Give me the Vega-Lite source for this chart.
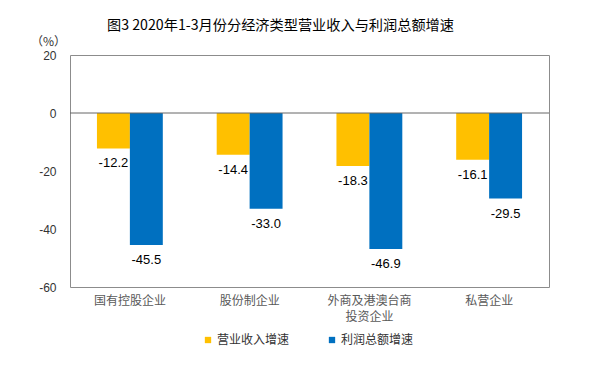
{
  "$schema": "https://vega.github.io/schema/vega-lite/v6.json",
  "width": 479,
  "height": 232,
  "autosize": {"type": "none"},
  "padding": {"left": 70, "top": 55, "right": 54, "bottom": 88},
  "background": "white",
  "config": {"view": {"stroke": "#8c8c8c", "strokeWidth": 1}, "font": "Noto Sans CJK SC",
    "locale": {"number": {"decimal": ".", "thousands": ",", "grouping": [3], "currency": ["", ""], "minus": "-"}}},
  "title": {"text": "图3 2020年1-3月份分经济类型营业收入与利润总额增速", "anchor": "start", "frame": "group", "dx": 37, "offset": 2, "fontSize": 14.2, "fontWeight": "normal", "color": "#000000", "font": "Noto Sans CJK SC"},
  "data": {"values": [
    {"type": "国有控股企业", "series": "营业收入增速", "value": -12.2},
    {"type": "国有控股企业", "series": "利润总额增速", "value": -45.5},
    {"type": "股份制企业", "series": "营业收入增速", "value": -14.4},
    {"type": "股份制企业", "series": "利润总额增速", "value": -33.0},
    {"type": "外商及港澳台商|投资企业", "series": "营业收入增速", "value": -18.3},
    {"type": "外商及港澳台商|投资企业", "series": "利润总额增速", "value": -46.9},
    {"type": "私营企业", "series": "营业收入增速", "value": -16.1},
    {"type": "私营企业", "series": "利润总额增速", "value": -29.5}
  ]},
  "layer": [
    {
      "mark": {"type": "bar"},
      "encoding": {
        "x": {"field": "type", "type": "nominal", "sort": ["国有控股企业", "股份制企业", "外商及港澳台商|投资企业", "私营企业"], "scale": {"paddingInner": 0.45, "paddingOuter": 0.225},
          "axis": {"title": null, "domain": false, "ticks": false, "labelAngle": 0, "labelFontSize": 12, "labelColor": "#595959", "labelPadding": 8, "labelExpr": "split(datum.label, '|')", "labelLineHeight": 16}},
        "xOffset": {"field": "series", "sort": ["营业收入增速", "利润总额增速"]},
        "y": {"field": "value", "type": "quantitative", "scale": {"domain": [-60, 20], "nice": false},
          "axis": {"values": [-60, -40, -20, 0, 20], "grid": false, "domain": false, "ticks": false, "labelPadding": 14, "labelFontSize": 12, "labelFont": "Liberation Sans", "labelColor": "#333333", "title": "（%）", "titleAngle": 0, "titleX": -22, "titleY": -7, "titleAlign": "center", "titleBaseline": "bottom", "titleFontSize": 12, "titleFontWeight": "normal", "titleColor": "#333333"}},
        "color": {"field": "series", "type": "nominal", "sort": ["营业收入增速", "利润总额增速"], "scale": {"range": ["#FFC000", "#0070C0"]},
          "legend": {"title": null, "orient": "none", "legendX": 132, "legendY": 279, "direction": "horizontal", "symbolType": "square", "symbolSize": 40, "labelFontSize": 12, "labelColor": "#333333", "columnPadding": 36, "labelOffset": 3}}
      }
    },
    {
      "mark": {"type": "text", "baseline": "top", "dy": 9, "fontSize": 13, "font": "Liberation Sans", "color": "#000000"},
      "encoding": {
        "x": {"field": "type", "type": "nominal", "sort": ["国有控股企业", "股份制企业", "外商及港澳台商|投资企业", "私营企业"]},
        "xOffset": {"field": "series", "sort": ["营业收入增速", "利润总额增速"]},
        "y": {"field": "value", "type": "quantitative"},
        "text": {"field": "value", "type": "quantitative", "format": ".1f"}
      }
    },
    {
      "data": {"values": [{"z": 0}]},
      "mark": {"type": "rule", "color": "#666666", "strokeWidth": 1},
      "encoding": {"y": {"field": "z", "type": "quantitative"}}
    }
  ]
}
